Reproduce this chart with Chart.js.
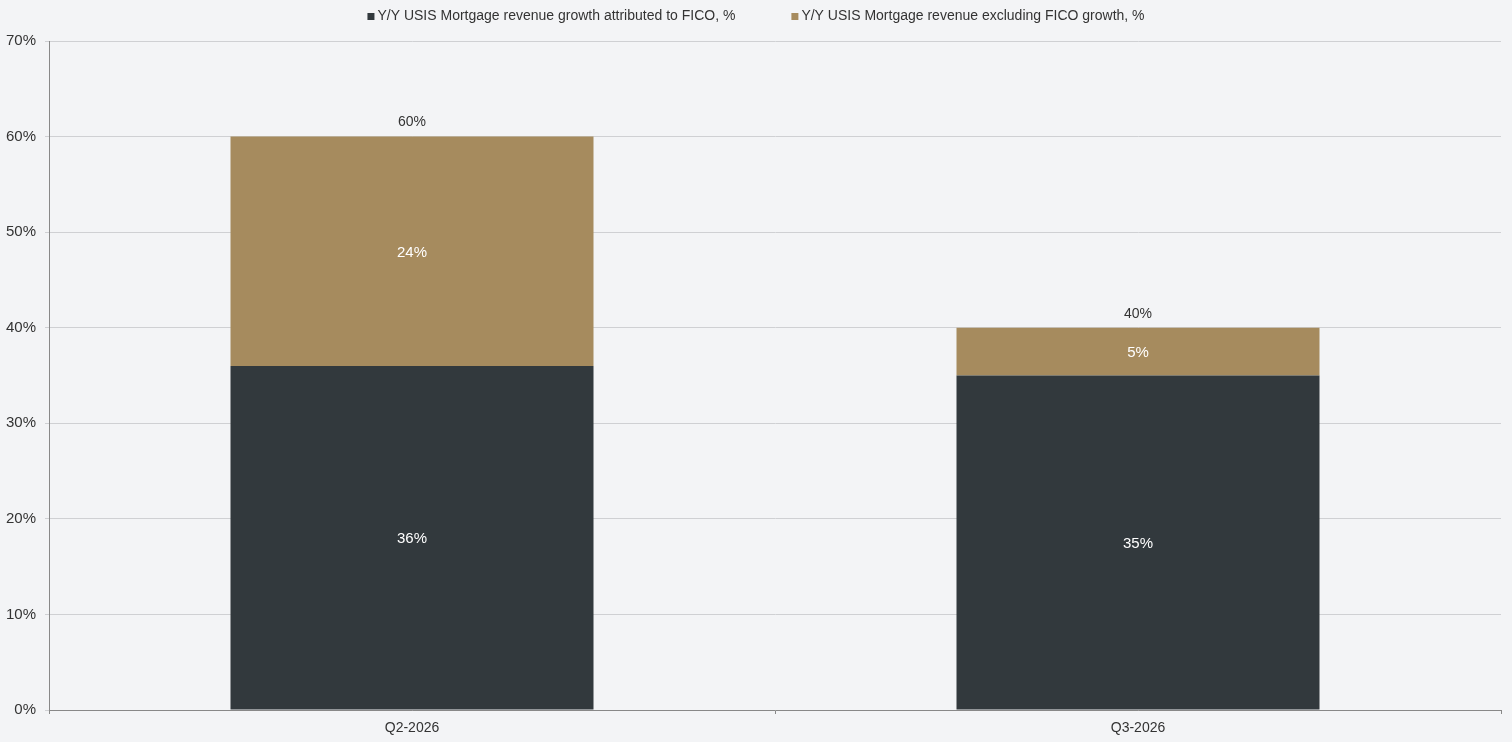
<!DOCTYPE html>
<html>
<head>
<meta charset="utf-8">
<script src="https://cdn.jsdelivr.net/npm/chart.js@4"></script>
<style>
  html, body { margin: 0; padding: 0; background: #f3f4f6; }
  #wrap { width: 1512px; height: 742px; }
</style>
</head>
<body>
<div id="wrap"><canvas id="canvas"></canvas></div>
<script>
const quarters = ['Q2-2026', 'Q3-2026'];
const ficoGrowth = [36, 35];
const exFicoGrowth = [24, 5];
const yTicks = [0, 10, 20, 30, 40, 50, 60, 70];

const seriesNames = [
  'Y/Y USIS Mortgage revenue growth attributed to FICO, %',
  'Y/Y USIS Mortgage revenue excluding FICO growth, %'
];
const seriesColors = ['#32393d', '#a68b5e'];

const FONT = '"Liberation Sans", Arial, Helvetica, sans-serif';

// labels inside segments + totals on top
const barLabels = {
  id: 'barLabels',
  afterDatasetsDraw(chart) {
    const c = chart.ctx;
    const y = chart.scales.y;
    c.save();
    c.textAlign = 'center';
    c.textBaseline = 'middle';
    chart.data.datasets.forEach((ds, i) => {
      chart.getDatasetMeta(i).data.forEach((bar, j) => {
        const p = bar.getProps(['x', 'y', 'base'], true);
        c.fillStyle = '#ffffff';
        c.font = '15px ' + FONT;
        c.fillText(ds.data[j] + '%', p.x, (p.y + p.base) / 2 + 1.5);
      });
    });
    quarters.forEach((q, j) => {
      const total = ficoGrowth[j] + exFicoGrowth[j];
      const x = chart.getDatasetMeta(0).data[j].x;
      c.fillStyle = '#333333';
      c.font = '14px ' + FONT;
      c.fillText(total + '%', x, y.getPixelForValue(total) - 14);
    });
    c.restore();
  }
};

// legend along the top, drawn by hand so the spacing can match
const topLegend = {
  id: 'topLegend',
  afterDraw(chart) {
    const c = chart.ctx;
    c.save();
    c.font = '14px ' + FONT;
    c.textBaseline = 'middle';
    const box = 7, gapText = 3, gapItem = 56, yMid = 16.5;
    const widths = seriesNames.map(n => box + gapText + c.measureText(n).width);
    const total = widths.reduce((a, b) => a + b, 0) + gapItem * (widths.length - 1);
    let x = (chart.width - total) / 2;
    seriesNames.forEach((n, i) => {
      c.fillStyle = seriesColors[i];
      c.fillRect(x, yMid - box / 2, box, box);
      c.fillStyle = '#333333';
      c.fillText(n, x + box + gapText, yMid);
      x += widths[i] + gapItem;
    });
    c.restore();
  }
};

new Chart(document.getElementById('canvas'), {
  type: 'bar',
  data: {
    labels: quarters,
    datasets: [
      { label: seriesNames[0], data: ficoGrowth, backgroundColor: seriesColors[0] },
      { label: seriesNames[1], data: exFicoGrowth, backgroundColor: seriesColors[1] }
    ]
  },
  options: {
    responsive: true,
    maintainAspectRatio: false,
    animation: false,
    layout: { padding: { right: 11, left: 0, top: 41, bottom: 0 } },
    datasets: { bar: { categoryPercentage: 0.5, barPercentage: 1 } },
    scales: {
      x: {
        stacked: true,
        grid: { drawOnChartArea: false, drawTicks: true, tickLength: 4, color: '#888888', offset: true },
        border: { display: true, color: '#888888' },
        ticks: { color: '#333333', font: { family: FONT, size: 14 }, padding: 6 },
        afterFit(s) { s.height = 32; }
      },
      y: {
        stacked: true,
        min: 0,
        max: 70,
        afterBuildTicks(s) { s.ticks = yTicks.map(v => ({ value: v })); },
        grid: { color: '#cfd0d3', tickLength: 4, drawTicks: true },
        border: { display: true, color: '#888888' },
        ticks: {
          color: '#333333',
          font: { family: FONT, size: 15 },
          padding: 9,
          callback: v => v + '%'
        },
        afterFit(s) { s.width = 49; }
      }
    },
    plugins: {
      legend: { display: false },
      tooltip: { enabled: false }
    }
  },
  plugins: [barLabels, topLegend]
});
</script>
</body>
</html>
